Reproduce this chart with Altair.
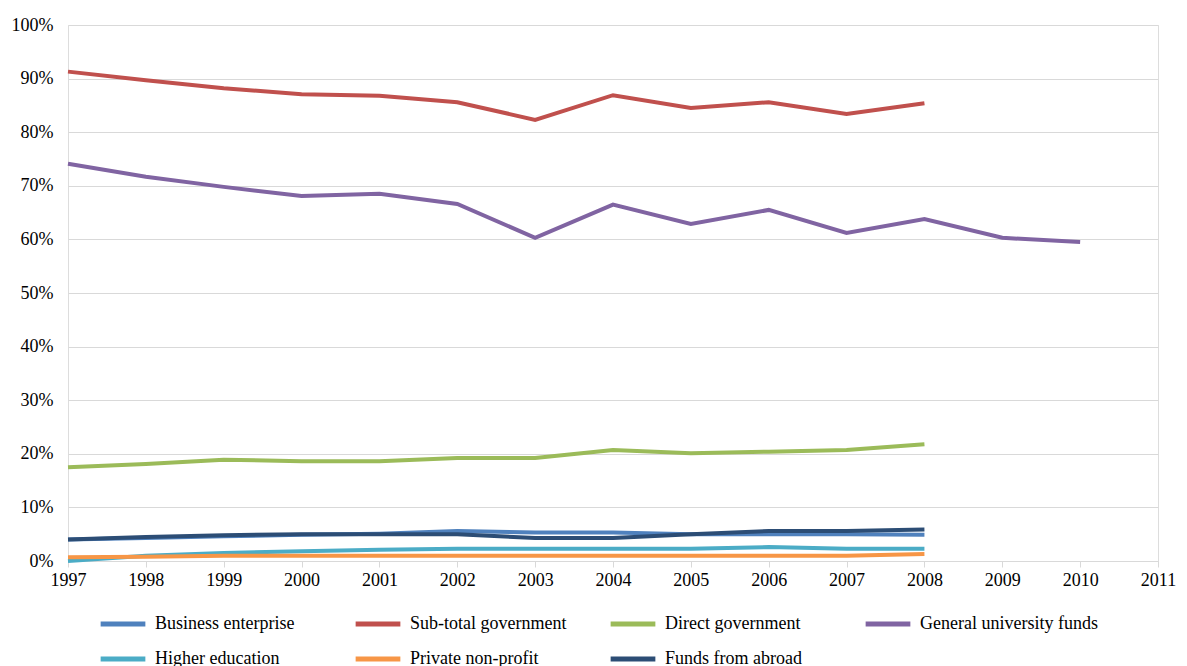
import altair as alt
import pandas as pd

years = list(range(1997, 2011))

business = [4.0, 4.3, 4.6, 4.9, 5.1, 5.6, 5.3, 5.3, 5.0, 5.0, 5.0, 4.9]
subtotal_gov = [91.3, 89.7, 88.2, 87.1, 86.8, 85.6, 82.3, 86.9, 84.5, 85.6, 83.4, 85.4]
direct_gov = [17.5, 18.1, 18.9, 18.6, 18.6, 19.2, 19.2, 20.7, 20.1, 20.4, 20.7, 21.8]
general_univ = [74.1, 71.7, 69.8, 68.1, 68.5, 66.6, 60.3, 66.5, 62.9, 65.5, 61.2, 63.8, 60.3, 59.5]
higher_ed = [0.0, 1.0, 1.5, 1.8, 2.1, 2.3, 2.3, 2.3, 2.3, 2.6, 2.3, 2.3]
private_np = [0.7, 0.8, 1.0, 1.0, 1.0, 1.0, 1.0, 1.0, 1.0, 1.0, 1.0, 1.3]
abroad = [4.0, 4.5, 4.8, 5.0, 5.0, 5.0, 4.3, 4.3, 5.0, 5.6, 5.6, 5.9]

series_names = ["Business enterprise", "Sub-total government", "Direct government",
                "General university funds", "Higher education", "Private non-profit",
                "Funds from abroad"]
series_values = [business, subtotal_gov, direct_gov, general_univ, higher_ed, private_np, abroad]
colors = ["#4F81BD", "#C0504D", "#9BBB59", "#8064A2", "#4BACC6", "#F79646", "#2C4D75"]

rows = []
for order, (name, vals) in enumerate(zip(series_names, series_values)):
    for y, v in zip(years, vals):
        rows.append({"year": y, "value": v / 100.0, "series": name, "order": order})
df = pd.DataFrame(rows)

font = "'Liberation Serif', 'Times New Roman', 'DejaVu Serif', serif"

chart = alt.Chart(df).mark_line(strokeWidth=4, interpolate="linear").encode(
    x=alt.X("year:Q", scale=alt.Scale(domain=[1997, 2011], nice=False),
            axis=alt.Axis(title=None, values=list(range(1997, 2012)), format="d",
                          grid=False, domainColor="#d9d9d9", tickColor="#d9d9d9",
                          tickSize=6, labelFontSize=18, labelPadding=4, labelFlush=False,
                          labelOverlap=False,
                          labelColor="#000000", labelFont=font)),
    y=alt.Y("value:Q", scale=alt.Scale(domain=[0, 1], nice=False),
            axis=alt.Axis(title=None, format=".0%", values=[i / 10 for i in range(11)],
                          grid=True, gridColor="#d9d9d9", domain=False, ticks=False,
                          labelFontSize=18, labelPadding=15, labelColor="#000000",
                          labelFont=font)),
    color=alt.Color("series:N", scale=alt.Scale(domain=series_names, range=colors),
                    legend=alt.Legend(title=None, orient="none", legendX=30, legendY=574,
                                      direction="horizontal", columns=4,
                                      symbolType="stroke", symbolSize=2000,
                                      symbolStrokeWidth=5, labelFontSize=18,
                                      labelFont=font, labelColor="#000000",
                                      labelOffset=7, columnPadding=12, rowPadding=-12,
                                      gridAlign="all", labelLimit=300)),
    order="order:Q",
    detail="series:N",
).properties(width=1090, height=536, padding={"left": 3, "top": 8, "right": 0, "bottom": 0}).configure_view(
    stroke=None
).configure(background="white")

chart.save("out.html", embed_options={"renderer": "svg", "actions": False})
